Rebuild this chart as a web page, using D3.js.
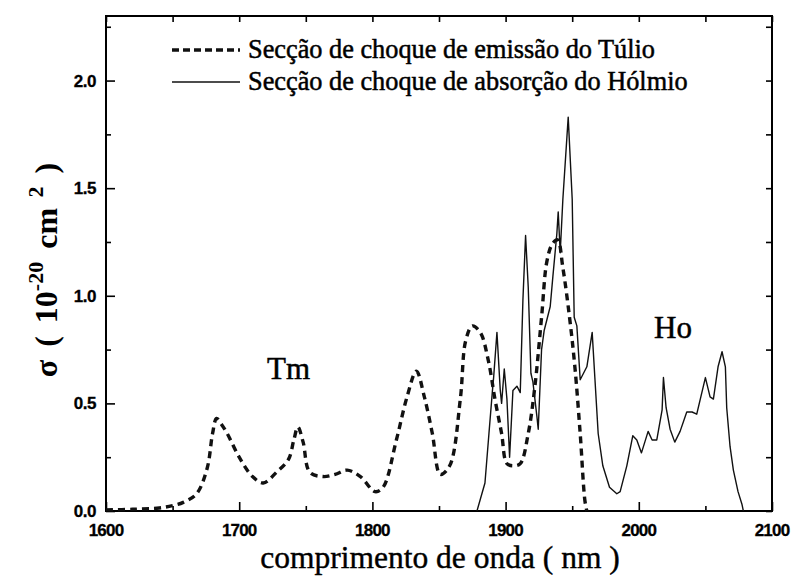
<!DOCTYPE html>
<html>
<head>
<meta charset="utf-8">
<script src="https://cdn.jsdelivr.net/npm/d3@7"></script>
<style>
  html, body { margin: 0; padding: 0; background: #fff; }
  svg { display: block; }
</style>
</head>
<body>
<svg id="chart" width="795" height="577"></svg>
<script>
// ---- Data ----
const xTickValues = [1600, 1700, 1800, 1900, 2000, 2100];
const yTickValues = [0.0, 0.5, 1.0, 1.5, 2.0];
const xTickLabels = ["1600", "1700", "1800", "1900", "2000", "2100"];
const yTickLabels = ["0.0", "0.5", "1.0", "1.5", "2.0"];
const legendLabels = ["Secção de choque de emissão do Túlio", "Secção de choque de absorção do Hólmio"];

// Túlio (Tm) emission cross-section
const tmWavelength = [1600, 1620, 1640, 1650, 1658, 1668, 1676, 1680, 1683, 1687, 1691, 1700, 1710, 1718, 1728, 1737, 1741, 1744, 1748, 1753, 1763, 1772, 1781, 1791, 1802, 1808, 1818, 1826, 1833, 1839, 1845, 1851, 1858, 1866, 1870, 1875, 1881, 1887, 1892, 1897, 1901, 1906, 1911, 1917, 1922, 1927, 1931, 1935, 1939, 1943, 1948, 1952, 1956, 1959.5, 1961];
const tmSigma      = [0.005, 0.008, 0.014, 0.025, 0.04, 0.08, 0.2, 0.36, 0.43, 0.40, 0.36, 0.25, 0.16, 0.13, 0.18, 0.24, 0.33, 0.39, 0.32, 0.18, 0.16, 0.17, 0.19, 0.16, 0.09, 0.11, 0.33, 0.53, 0.65, 0.53, 0.36, 0.17, 0.21, 0.52, 0.79, 0.86, 0.83, 0.70, 0.52, 0.36, 0.22, 0.21, 0.22, 0.36, 0.58, 0.90, 1.16, 1.24, 1.26, 1.13, 0.90, 0.67, 0.36, 0.05, 0.0];

// Hólmio (Ho) absorption cross-section
const hoWavelength = [1878.5, 1884.5, 1887.5, 1890, 1891, 1893.5, 1896, 1897, 1899, 1901, 1903, 1905.5, 1908.5, 1911, 1913, 1915, 1917, 1919, 1920.5, 1923.5, 1924.5, 1927, 1929, 1933.5, 1935.5, 1938.5, 1939.5, 1941, 1943, 1947, 1950, 1951.5, 1953.5, 1956, 1961, 1965, 1967, 1969.5, 1973, 1978, 1983.5, 1986, 1991, 1995.5, 1998.5, 2002, 2004.5, 2007, 2010, 2013.5, 2017.5, 2018.5, 2020.5, 2023.5, 2027, 2031, 2036, 2040, 2043.5, 2050, 2053.5, 2056, 2059.5, 2062.5, 2065, 2066, 2068.5, 2071, 2074.5, 2077.5, 2078.5];
const hoSigma      = [0.0, 0.13, 0.36, 0.55, 0.62, 0.83, 0.56, 0.50, 0.66, 0.52, 0.25, 0.56, 0.58, 0.55, 0.98, 1.28, 1.04, 0.64, 0.60, 0.44, 0.38, 0.75, 0.84, 0.95, 1.09, 1.29, 1.39, 1.20, 1.45, 1.83, 1.45, 0.90, 0.86, 0.61, 0.67, 0.83, 0.62, 0.36, 0.21, 0.11, 0.08, 0.09, 0.21, 0.35, 0.33, 0.27, 0.32, 0.37, 0.33, 0.33, 0.47, 0.62, 0.48, 0.38, 0.32, 0.37, 0.46, 0.46, 0.45, 0.62, 0.53, 0.52, 0.67, 0.74, 0.67, 0.48, 0.30, 0.19, 0.09, 0.03, 0.0];

// ---- Layout ----
const svg = d3.select("#chart");
const mLeft = 106, mRight = 772, mTop = 16, mBottom = 511;

const x = d3.scaleLinear().domain([1600, 2100]).range([mLeft, mRight]);
const y = d3.scaleLinear().domain([0, 2.3]).range([mBottom, mTop]);

const serif = "'Liberation Serif', 'Times New Roman', serif";
const sans = "'Liberation Sans', Arial, sans-serif";

// Axes (ticks inward)
const xMinor = d3.range(1600, 2101, 50);
const yMinor = d3.range(0, 2.3, 0.25);

const gx = svg.append("g").attr("transform", `translate(0,${mBottom})`)
  .call(d3.axisBottom(x).tickValues(xMinor).tickSize(0).tickFormat(""));
gx.select(".domain").remove();
gx.selectAll(".tick").append("line")
  .attr("y1", 0).attr("y2", d => (d % 100 === 0 ? -9 : -5))
  .attr("stroke", "#000").attr("stroke-width", 1.6);

const gxt = svg.append("g").attr("transform", `translate(0,${mTop})`)
  .call(d3.axisTop(x).tickValues(xMinor).tickSize(0).tickFormat(""));
gxt.select(".domain").remove();
gxt.selectAll(".tick").append("line")
  .attr("y1", 0).attr("y2", 6).attr("stroke", "#000").attr("stroke-width", 1.6);

const gy = svg.append("g").attr("transform", `translate(${mLeft},0)`)
  .call(d3.axisLeft(y).tickValues(yMinor).tickSize(0).tickFormat(""));
gy.select(".domain").remove();
gy.selectAll(".tick").append("line")
  .attr("x1", 0).attr("x2", (d, i) => (i % 2 === 0 ? 9 : 5))
  .attr("stroke", "#000").attr("stroke-width", 1.6);

const gyr = svg.append("g").attr("transform", `translate(${mRight},0)`)
  .call(d3.axisRight(y).tickValues(yMinor).tickSize(0).tickFormat(""));
gyr.select(".domain").remove();
gyr.selectAll(".tick").append("line")
  .attr("x1", 0).attr("x2", -6).attr("stroke", "#000").attr("stroke-width", 1.6);

// Frame
svg.append("rect")
  .attr("x", mLeft).attr("y", mTop)
  .attr("width", mRight - mLeft).attr("height", mBottom - mTop)
  .attr("fill", "none").attr("stroke", "#000").attr("stroke-width", 2);

// Tick labels
svg.append("g").selectAll("text").data(xTickValues).join("text")
  .attr("x", d => x(d)).attr("y", mBottom + 25)
  .attr("text-anchor", "middle")
  .attr("font-family", sans).attr("font-weight", "bold").attr("font-size", 17)
  .attr("letter-spacing", -0.8)
  .attr("stroke", "#000").attr("stroke-width", 0.3)
  .text((d, i) => xTickLabels[i]);

svg.append("g").selectAll("text").data(yTickValues).join("text")
  .attr("x", mLeft - 10).attr("y", d => y(d) + 6)
  .attr("text-anchor", "end")
  .attr("font-family", sans).attr("font-weight", "bold").attr("font-size", 17)
  .attr("letter-spacing", -0.5)
  .attr("stroke", "#000").attr("stroke-width", 0.3)
  .text((d, i) => yTickLabels[i]);

// Curves
const tmLine = d3.line().x(d => x(d[0])).y(d => y(d[1])).curve(d3.curveCatmullRom.alpha(0.5));
const hoLine = d3.line().x(d => x(d[0])).y(d => y(d[1])).curve(d3.curveLinear);

svg.append("path")
  .datum(hoWavelength.map((w, i) => [w, hoSigma[i]]))
  .attr("d", hoLine)
  .attr("fill", "none").attr("stroke", "#111").attr("stroke-width", 1.4)
  .attr("stroke-linejoin", "round");

svg.append("path")
  .datum(tmWavelength.map((w, i) => [w, tmSigma[i]]))
  .attr("d", tmLine)
  .attr("fill", "none").attr("stroke", "#111").attr("stroke-width", 3.4)
  .attr("stroke-dasharray", "7,5");

// Legend
const lg = svg.append("g");
lg.append("line").attr("x1", 172).attr("x2", 240).attr("y1", 50).attr("y2", 50)
  .attr("stroke", "#111").attr("stroke-width", 3.4).attr("stroke-dasharray", "7,4");
lg.append("line").attr("x1", 172).attr("x2", 240).attr("y1", 82).attr("y2", 82)
  .attr("stroke", "#111").attr("stroke-width", 1.4);
lg.selectAll("text").data(legendLabels).join("text")
  .attr("x", 248).attr("y", (d, i) => 58 + i * 32)
  .attr("font-family", serif).attr("font-size", 26.3)
  .attr("stroke", "#000").attr("stroke-width", 0.5)
  .text(d => d);

// Annotations
svg.append("text").attr("x", 267).attr("y", 379)
  .attr("font-family", serif).attr("font-size", 31)
  .attr("stroke", "#000").attr("stroke-width", 0.5).text("Tm");
svg.append("text").attr("x", 654).attr("y", 338)
  .attr("font-family", serif).attr("font-size", 31)
  .attr("stroke", "#000").attr("stroke-width", 0.5).text("Ho");

// Axis titles
svg.append("text").attr("x", 440).attr("y", 568)
  .attr("text-anchor", "middle")
  .attr("font-family", serif).attr("font-size", 31.5)
  .attr("stroke", "#000").attr("stroke-width", 0.4)
  .text("comprimento de onda ( nm )");

const yt = svg.append("text")
  .attr("transform", "translate(57,270) rotate(-90)")
  .attr("text-anchor", "middle")
  .attr("font-family", serif).attr("font-weight", "bold").attr("font-size", 32)
  .attr("word-spacing", 5);
yt.append("tspan").text("σ ( 10");
yt.append("tspan").attr("dy", -14).attr("font-size", 22).text("-20");
yt.append("tspan").attr("dy", 14).text(" cm");
yt.append("tspan").attr("dy", -14).attr("font-size", 22).text(" 2");
yt.append("tspan").attr("dy", 14).text(" )");
</script>
</body>
</html>
